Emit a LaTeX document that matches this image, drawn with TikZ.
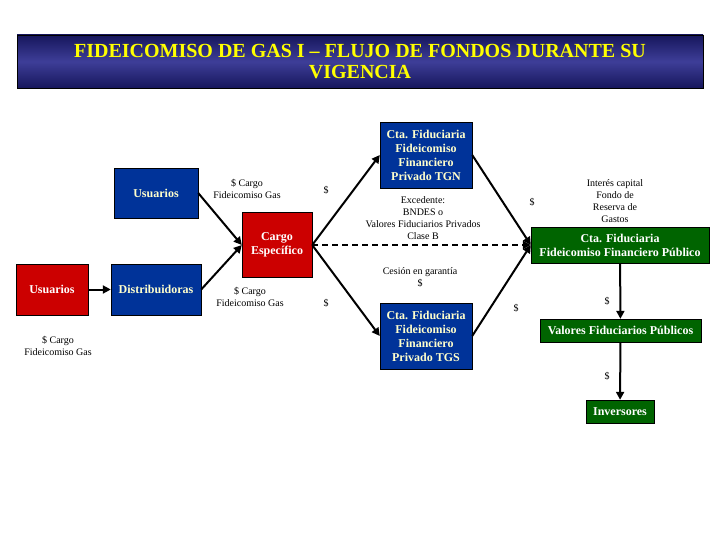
\documentclass[tikz,border=0pt]{standalone}
\usepackage{fontspec}
\setmainfont{Liberation Serif}
\usetikzlibrary{arrows.meta}

\definecolor{boxblue}{RGB}{0,51,153}
\definecolor{boxred}{RGB}{204,0,0}
\definecolor{boxgreen}{RGB}{0,100,0}
\definecolor{paleyellow}{RGB}{255,255,204}
\definecolor{titleyellow}{RGB}{255,255,0}
\definecolor{navyedge}{RGB}{22,22,92}
\definecolor{navymid}{RGB}{62,62,152}

\begin{document}
\begin{tikzpicture}[
  x=1pt, y=-1pt,
  banner/.style={draw=black, line width=0.8pt, top color=navyedge, bottom color=navyedge, middle color=navymid,
    minimum width=686pt, minimum height=53pt, align=center, text=titleyellow,
    font=\bfseries\fontsize{20}{21}\selectfont},
  bluebox/.style={draw=black, fill=boxblue, text=paleyellow, align=center, inner sep=1pt,
    font=\bfseries\fontsize{12}{14}\selectfont},
  redbox/.style={draw=black, fill=boxred, text=white, align=center, inner sep=1pt,
    font=\bfseries\fontsize{12}{14}\selectfont},
  greenbox/.style={draw=black, fill=boxgreen, text=white, align=center, inner sep=1pt,
    font=\bfseries\fontsize{12}{14}\selectfont},
  note/.style={align=center, inner sep=0pt, font=\fontsize{10}{12}\selectfont},
  arrow/.style={-{Triangle[width=8pt,length=8pt]}, line width=2pt},
  dasharrow/.style={arrow, dash pattern=on 6pt off 4pt}
]
\useasboundingbox (0,0) rectangle (720,540);

\node[banner] (title) at (360,61.5) {FIDEICOMISO DE GAS I -- FLUJO DE FONDOS DURANTE SU\\VIGENCIA};

% boxes
\node[bluebox, minimum width=84pt, minimum height=50pt] (usrtop) at (156,193) {Usuarios};
\node[redbox, minimum width=70pt, minimum height=65pt] (cargo) at (277,245) {Cargo\\Específico};
\node[redbox, minimum width=72pt, minimum height=51pt] (usr) at (52,289.5) {Usuarios};
\node[bluebox, minimum width=90pt, minimum height=51pt] (dist) at (156,289.5) {Distribuidoras};
\node[bluebox, minimum width=92pt, minimum height=66pt] (tgn) at (426,155) {Cta. Fiduciaria\\Fideicomiso\\Financiero\\Privado TGN};
\node[bluebox, minimum width=92pt, minimum height=66pt] (tgs) at (426,336) {Cta. Fiduciaria\\Fideicomiso\\Financiero\\Privado TGS};
\node[greenbox, minimum width=178pt, minimum height=36pt] (ffp) at (620,245) {Cta. Fiduciaria\\Fideicomiso Financiero Público};
\node[greenbox, minimum width=161pt, minimum height=23pt] (vfp) at (620.5,330.5) {Valores Fiduciarios Públicos};
\node[greenbox, minimum width=68pt, minimum height=23pt] (inv) at (620,411.5) {Inversores};

% labels
\node[note] (lblusr) at (58,346) {\$ Cargo\\Fideicomiso Gas};
\node[note] (lbltop) at (247,189) {\$ Cargo\\Fideicomiso Gas};
\node[note] (lbldist) at (250,297) {\$ Cargo\\Fideicomiso Gas};
\node[note] (lbltgn) at (326,190) {\$};
\node[note] (lbltgs) at (326,303) {\$};
\node[note] (lblexc) at (423,218) {Excedente:\\BNDES o\\Valores Fiduciarios Privados\\Clase B};
\node[note] (lblces) at (420,277) {Cesión en garantía\\\$};
\node[note] (lbltgnffp) at (532,202) {\$};
\node[note] (lbltgsffp) at (516,308) {\$};
\node[note] (lblint) at (615,201) {Interés capital\\Fondo de\\Reserva de\\Gastos};
\node[note] (lblvfp) at (607,301) {\$};
\node[note] (lblinv) at (607,376) {\$};

% connectors
\draw[arrow] (usr) -- (dist);
\draw[arrow] (usrtop.east) -- (cargo.west);
\draw[arrow] (dist.east) -- (cargo.west);
\draw[arrow] (cargo.east) -- (tgn.west);
\draw[arrow] (cargo.east) -- (tgs.west);
\draw[dasharrow] (cargo.east) -- (ffp.west);
\draw[arrow] (tgn.east) -- (ffp.west);
\draw[arrow] (tgs.east) -- (ffp.west);
\draw[arrow] (ffp) -- (vfp);
\draw[arrow] (vfp) -- (inv);
\end{tikzpicture}
\end{document}
